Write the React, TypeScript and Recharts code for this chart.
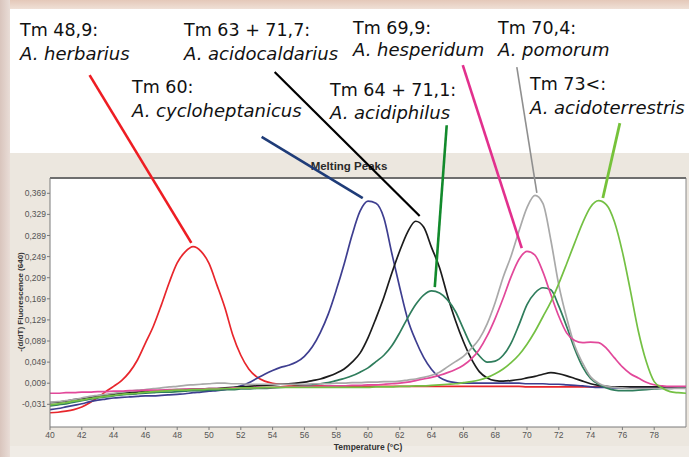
import React from 'react';
import { LineChart, Line, XAxis, YAxis, CartesianGrid, ReferenceLine } from 'recharts';

// Temperature (°C), 0.5 °C steps
const temperatures = [
  40, 40.5, 41, 41.5, 42, 42.5, 43, 43.5, 44, 44.5,
  45, 45.5, 46, 46.5, 47, 47.5, 48, 48.5, 49, 49.5,
  50, 50.5, 51, 51.5, 52, 52.5, 53, 53.5, 54, 54.5,
  55, 55.5, 56, 56.5, 57, 57.5, 58, 58.5, 59, 59.5,
  60, 60.5, 61, 61.5, 62, 62.5, 63, 63.5, 64, 64.5,
  65, 65.5, 66, 66.5, 67, 67.5, 68, 68.5, 69, 69.5,
  70, 70.5, 71, 71.5, 72, 72.5, 73, 73.5, 74, 74.5,
  75, 75.5, 76, 76.5, 77, 77.5, 78, 78.5, 79, 79.5, 80,
];

// -(d/dT) Fluorescence (640)
const herbarius = [
  -0.047, -0.046, -0.044, -0.041, -0.036, -0.028, -0.018, -0.007, 0.003, 0.014,
  0.030, 0.053, 0.085, 0.117, 0.157, 0.200, 0.237, 0.258, 0.268, 0.259,
  0.236, 0.195, 0.152, 0.100, 0.062, 0.036, 0.021, 0.013, 0.009, 0.007,
  0.006, 0.005, 0.005, 0.004, 0.004, 0.004, 0.004, 0.003, 0.003, 0.003,
  0.003, 0.003, 0.003, 0.003, 0.003, 0.003, 0.003, 0.003, 0.003, 0.003,
  0.003, 0.003, 0.003, 0.003, 0.003, 0.003, 0.003, 0.003, 0.003, 0.003,
  0.002, 0.002, 0.002, 0.002, 0.002, 0.002, 0.002, 0.002, 0.002, 0.002,
  0.002, 0.002, 0.002, 0.002, 0.002, 0.002, 0.002, 0.002, 0.002, 0.002, 0.002,
];
const cycloheptanicus = [
  -0.041, -0.039, -0.036, -0.033, -0.030, -0.026, -0.023, -0.021, -0.019, -0.018,
  -0.017, -0.016, -0.015, -0.015, -0.014, -0.013, -0.012, -0.011, -0.009, -0.008,
  -0.006, -0.005, -0.003, 0.000, 0.004, 0.010, 0.018, 0.026, 0.033, 0.039,
  0.043, 0.049, 0.060, 0.078, 0.105, 0.140, 0.185, 0.235, 0.290, 0.335,
  0.354, 0.350, 0.322, 0.255, 0.190, 0.130, 0.090, 0.058, 0.035, 0.020,
  0.013, 0.010, 0.009, 0.009, 0.009, 0.009, 0.009, 0.009, 0.009, 0.009,
  0.008, 0.008, 0.008, 0.007, 0.007, 0.006, 0.005, 0.004, 0.002, 0.001,
  0.001, 0.000, 0.000, 0.000, 0.000, 0.000, 0.000, 0.000, 0.000, 0.000, 0.000,
];
const acidocaldarius = [
  -0.028, -0.027, -0.025, -0.022, -0.020, -0.018, -0.015, -0.013, -0.012, -0.010,
  -0.009, -0.008, -0.007, -0.006, -0.005, -0.004, -0.003, -0.003, -0.002, -0.002,
  -0.001, -0.001, 0.000, 0.001, 0.002, 0.003, 0.004, 0.005, 0.006, 0.007,
  0.008, 0.009, 0.011, 0.014, 0.017, 0.022, 0.028, 0.036, 0.049, 0.066,
  0.095, 0.132, 0.172, 0.218, 0.260, 0.296, 0.316, 0.305, 0.266, 0.228,
  0.175, 0.128, 0.088, 0.055, 0.031, 0.019, 0.014, 0.013, 0.014, 0.016,
  0.019, 0.022, 0.026, 0.029, 0.027, 0.023, 0.018, 0.013, 0.008, 0.005,
  0.003, 0.002, 0.002, 0.002, 0.002, 0.002, 0.002, 0.002, 0.002, 0.002, 0.002,
];
const acidiphilus = [
  -0.034, -0.032, -0.030, -0.027, -0.024, -0.021, -0.019, -0.017, -0.015, -0.013,
  -0.012, -0.011, -0.010, -0.009, -0.008, -0.008, -0.007, -0.006, -0.005, -0.005,
  -0.004, -0.004, -0.003, -0.003, -0.002, -0.002, -0.001, -0.001, 0.000, 0.001,
  0.002, 0.003, 0.004, 0.006, 0.008, 0.010, 0.014, 0.018, 0.023, 0.030,
  0.038, 0.050, 0.062, 0.080, 0.105, 0.133, 0.158, 0.176, 0.184, 0.180,
  0.167, 0.145, 0.112, 0.080, 0.061, 0.049, 0.051, 0.062, 0.085, 0.120,
  0.158, 0.180, 0.190, 0.186, 0.155, 0.116, 0.074, 0.040, 0.018, 0.007,
  0.000, -0.004, -0.005, -0.005, -0.004, -0.003, -0.002, -0.001, -0.001, 0.000, 0.000,
];
const pomorum = [
  -0.027, -0.026, -0.024, -0.022, -0.019, -0.016, -0.014, -0.012, -0.010, -0.008,
  -0.006, -0.004, -0.003, -0.001, 0.000, 0.002, 0.003, 0.005, 0.006, 0.007,
  0.008, 0.009, 0.009, 0.008, 0.008, 0.007, 0.007, 0.007, 0.007, 0.007,
  0.007, 0.007, 0.007, 0.008, 0.008, 0.008, 0.009, 0.009, 0.010, 0.010,
  0.011, 0.011, 0.012, 0.012, 0.013, 0.015, 0.017, 0.020, 0.024, 0.030,
  0.040, 0.050, 0.060, 0.075, 0.093, 0.122, 0.162, 0.210, 0.250, 0.298,
  0.342, 0.365, 0.350, 0.280, 0.195, 0.132, 0.080, 0.047, 0.021, 0.009,
  0.003, 0.001, 0.000, -0.001, -0.001, -0.001, -0.001, -0.001, -0.001, -0.001, -0.001,
];
const hesperidum = [
  -0.010, -0.010, -0.009, -0.009, -0.008, -0.008, -0.007, -0.007, -0.006, -0.006,
  -0.005, -0.005, -0.004, -0.004, -0.004, -0.003, -0.003, -0.002, -0.002, -0.002,
  -0.001, -0.001, -0.001, 0.000, 0.000, 0.000, 0.001, 0.001, 0.001, 0.002,
  0.002, 0.002, 0.003, 0.003, 0.003, 0.004, 0.004, 0.004, 0.005, 0.005,
  0.006, 0.006, 0.007, 0.008, 0.009, 0.011, 0.014, 0.017, 0.020, 0.024,
  0.029, 0.035, 0.043, 0.055, 0.073, 0.099, 0.132, 0.170, 0.211, 0.244,
  0.259, 0.252, 0.220, 0.177, 0.136, 0.104, 0.090, 0.086, 0.087, 0.086,
  0.075, 0.057, 0.040, 0.027, 0.019, 0.011, 0.006, 0.004, 0.003, 0.003, 0.003,
];
const acidoterrestris = [
  -0.032, -0.030, -0.028, -0.025, -0.023, -0.020, -0.018, -0.016, -0.014, -0.012,
  -0.011, -0.010, -0.008, -0.007, -0.006, -0.005, -0.004, -0.004, -0.003, -0.003,
  -0.002, -0.002, -0.001, -0.001, 0.000, 0.000, 0.000, 0.001, 0.001, 0.001,
  0.001, 0.001, 0.001, 0.001, 0.001, 0.001, 0.001, 0.001, 0.001, 0.001,
  0.001, 0.002, 0.002, 0.002, 0.003, 0.003, 0.004, 0.004, 0.005, 0.006,
  0.007, 0.008, 0.010, 0.012, 0.015, 0.020, 0.027, 0.036, 0.048, 0.063,
  0.083, 0.107, 0.135, 0.163, 0.198, 0.236, 0.275, 0.313, 0.343, 0.355,
  0.347, 0.315, 0.258, 0.185, 0.108, 0.050, 0.012, 0.000, -0.007, -0.009, -0.010,
];

const xTicks = [40, 42, 44, 46, 48, 50, 52, 54, 56, 58, 60, 62, 64, 66, 68, 70, 72, 74, 76, 78];
const yTicks = [-0.031, 0.009, 0.049, 0.089, 0.129, 0.169, 0.209, 0.249, 0.289, 0.329, 0.369];

// Annotation texts
const tmLabels = ['Tm 48,9:', 'Tm 60:', 'Tm 63 + 71,7:', 'Tm 64 + 71,1:', 'Tm 69,9:', 'Tm 70,4:', 'Tm 73<:'];
const speciesLabels = ['A. herbarius', 'A. cycloheptanicus', 'A. acidocaldarius', 'A. acidiphilus', 'A. hesperidum', 'A. pomorum', 'A. acidoterrestris'];
// Leader lines in data units (temperature, fluorescence): from label to peak
const leaderFrom = [[42.49, 0.593], [53.31, 0.476], [54.13, 0.599], [64.95, 0.498], [65.96, 0.612], [69.36, 0.608], [75.84, 0.502]];
const leaderTo = [[48.89, 0.275], [59.67, 0.36], [63.25, 0.326], [64.2, 0.191], [69.67, 0.265], [70.62, 0.37], [74.77, 0.36]];

// ---- styles / layout (not data) ----
const series = [
  { key: 'herbarius', values: herbarius, color: '#e8262c' },
  { key: 'cycloheptanicus', values: cycloheptanicus, color: '#3e3e90' },
  { key: 'acidocaldarius', values: acidocaldarius, color: '#1c1c1c' },
  { key: 'acidiphilus', values: acidiphilus, color: '#2f7d5c' },
  { key: 'pomorum', values: pomorum, color: '#a9a9a9' },
  { key: 'hesperidum', values: hesperidum, color: '#e2489a' },
  { key: 'acidoterrestris', values: acidoterrestris, color: '#74c043' },
];
const leaderStyle = [
  { color: '#ee1d23', width: 2.6 },
  { color: '#1f3c78', width: 2.6 },
  { color: '#000000', width: 2.2 },
  { color: '#128a2c', width: 2.6 },
  { color: '#e2308d', width: 2.6 },
  { color: '#8f8f8f', width: 1.6 },
  { color: '#76c23a', width: 2.8 },
];
const labelLayout = [
  { left: 20, top1: 22, top2: 45 },
  { left: 132, top1: 79, top2: 102 },
  { left: 184, top1: 22, top2: 45 },
  { left: 330, top1: 82, top2: 104 },
  { left: 353, top1: 20, top2: 41 },
  { left: 498, top1: 20, top2: 41 },
  { left: 530, top1: 76, top2: 99 },
];

const data = temperatures.map((t, i) => {
  const row: Record<string, number> = { t };
  series.forEach((s) => {
    row[s.key] = s.values[i];
  });
  return row;
});

const fmt = (v: number) => v.toFixed(3).replace('.', ',');

const W = 689;
const H = 457;
const Y_DOMAIN: [number, number] = [-0.074, 0.398];

export default function App() {
  const textFont = '"DejaVu Sans", "Open Sans", sans-serif';
  return (
    <div style={{ position: 'relative', width: W, height: H, overflow: 'hidden', background: '#ffffff' }}>
      <style>{`body{margin:0}`}</style>
      {/* background pieces */}
      <div style={{ position: 'absolute', left: 0, top: 0, width: W, height: 9, background: 'linear-gradient(to bottom, #e4c8b9, #efe0d6)' }} />
      <div style={{ position: 'absolute', left: 0, top: 153, width: W, height: H - 153, background: '#ece7df' }} />
      <div style={{ position: 'absolute', left: 0, top: 446, width: W, height: H - 446, background: '#f0ece6' }} />
      <div style={{ position: 'absolute', left: 0, top: 0, width: 10, height: H, background: 'linear-gradient(to right, #d9c5bd, #e9ddd7)' }} />
      <div style={{ position: 'absolute', left: 300, top: 158, width: 98, textAlign: 'center', fontFamily: '"Liberation Sans", Arial, sans-serif', fontWeight: 700, fontSize: 11.5, color: '#2a2a2a', lineHeight: '16px' }}>
        Melting Peaks
      </div>
      <div style={{ position: 'absolute', left: 20, top: 302, transform: 'translate(-50%, -50%) rotate(-90deg)', whiteSpace: 'nowrap', fontFamily: '"Liberation Sans", Arial, sans-serif', fontWeight: 700, fontSize: 8, color: '#333' }}>
        -(d/dT) Fluorescence (640)
      </div>
      <div style={{ position: 'absolute', left: 368, top: 447, transform: 'translate(-50%, -50%)', whiteSpace: 'nowrap', fontFamily: '"Liberation Sans", Arial, sans-serif', fontWeight: 700, fontSize: 8.5, color: '#333' }}>
        Temperature (°C)
      </div>
      <div style={{ position: 'absolute', left: 0, top: 0 }}>
        <LineChart width={W} height={H} data={data} margin={{ top: 178, right: 3, bottom: 10, left: 8 }}>
          <CartesianGrid horizontal={false} vertical={false} fill="#ffffff" />
          <XAxis
            type="number"
            dataKey="t"
            domain={[40, 80]}
            ticks={xTicks}
            allowDataOverflow
            height={20}
            tickSize={3}
            tickMargin={2}
            stroke="#7a7a7a"
            tick={{ fontSize: 8.5, fill: '#555', fontFamily: '"Liberation Sans", Arial, sans-serif' }}
          />
          <YAxis
            type="number"
            domain={Y_DOMAIN}
            ticks={yTicks}
            allowDataOverflow
            width={42}
            tickSize={3}
            tickMargin={1}
            tickFormatter={fmt}
            stroke="#7a7a7a"
            tick={{ fontSize: 8.5, fill: '#555', fontFamily: '"Liberation Sans", Arial, sans-serif' }}
          />
          <ReferenceLine x={80} stroke="#8a8a8a" strokeWidth={1} />
          <ReferenceLine y={Y_DOMAIN[1]} stroke="#6e6e6e" strokeWidth={2} />
          {series.map((s) => (
            <Line
              key={s.key}
              type="monotone"
              dataKey={s.key}
              stroke={s.color}
              strokeWidth={1.7}
              dot={false}
              activeDot={false}
              isAnimationActive={false}
            />
          ))}
          {leaderFrom.map((from, i) => (
            <ReferenceLine
              key={'leader' + i}
              segment={[
                { x: from[0], y: from[1] },
                { x: leaderTo[i][0], y: leaderTo[i][1] },
              ]}
              stroke={leaderStyle[i].color}
              strokeWidth={leaderStyle[i].width}
              ifOverflow="visible"
            />
          ))}
        </LineChart>
      </div>
      {tmLabels.map((tm, i) => (
        <React.Fragment key={'lab' + i}>
          <div style={{ position: 'absolute', left: labelLayout[i].left, top: labelLayout[i].top1, fontFamily: textFont, fontSize: 17.5, lineHeight: '17.5px', color: '#111', whiteSpace: 'nowrap' }}>
            {tm}
          </div>
          <div style={{ position: 'absolute', left: labelLayout[i].left, top: labelLayout[i].top2, fontFamily: textFont, fontSize: 18, lineHeight: '18px', fontStyle: 'italic', color: '#111', whiteSpace: 'nowrap' }}>
            {speciesLabels[i]}
          </div>
        </React.Fragment>
      ))}
    </div>
  );
}
